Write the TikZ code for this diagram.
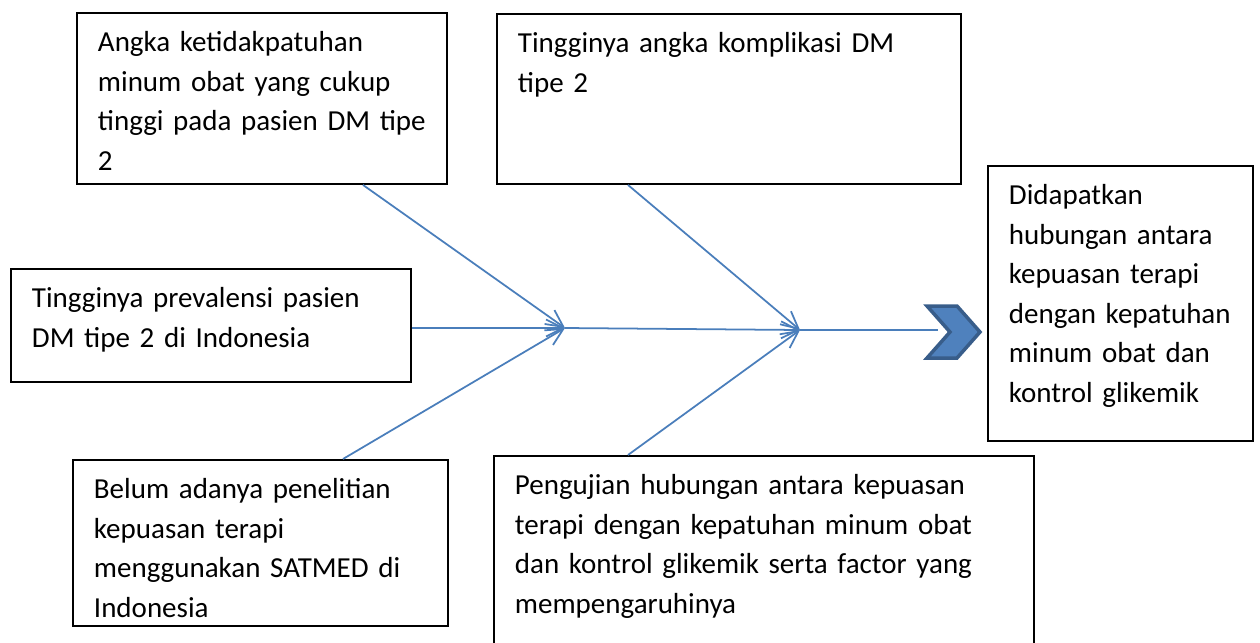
\documentclass[tikz,border=0pt]{standalone}
\usepackage{fontspec}
\setmainfont{Carlito}
\usetikzlibrary{arrows.meta,calc}
\definecolor{boneblue}{HTML}{4A7EBB}
\definecolor{chevfill}{HTML}{4F81BD}
\definecolor{chevedge}{HTML}{385D8A}

\begin{document}
\begin{tikzpicture}[
    box/.style={draw, line width=1.1pt, anchor=north west, align=left,
      inner xsep=0.42cm, inner ysep=0pt, text height=0.77cm,
      font=\fontsize{16.5pt}{22.5pt}\selectfont},
    bone/.style={draw=boneblue, line width=1pt},
    arr/.style={bone, -{Straight Barb[length=0.34cm,width=0.34cm]}}
  ]
    \useasboundingbox (0,0) rectangle (25.2,-12.84);

    % Causes, top row
    \node[box, text width=6.56cm, text depth=2.65cm] (cause1) at (1.52,-0.24)
      {Angka ketidakpatuhan\\minum obat yang cukup\\tinggi pada pasien DM tipe\\2};
    \node[box, text width=8.44cm, text depth=2.63cm] (cause2) at (9.92,-0.26)
      {Tingginya angka komplikasi DM\\tipe 2};

    % Cause on the spine
    \node[box, text width=7.16cm, text depth=1.49cm] (cause3) at (0.2,-5.36)
      {Tingginya prevalensi pasien\\DM tipe 2 di Indonesia};

    % Causes, bottom row
    \node[box, text width=6.66cm, text depth=2.55cm] (cause4) at (1.44,-9.18)
      {Belum adanya penelitian\\kepuasan terapi\\menggunakan SATMED di\\Indonesia};
    \node[box, text width=9.96cm, text depth=3.33cm] (cause5) at (9.86,-9.10)
      {Pengujian hubungan antara kepuasan\\terapi dengan kepatuhan minum obat\\dan kontrol glikemik serta factor yang\\mempengaruhinya};

    % Result
    \node[box, text width=4.46cm, text depth=4.73cm] (result) at (19.74,-3.30)
      {Didapatkan\\hubungan antara\\kepuasan terapi\\dengan kepatuhan\\minum obat dan\\kontrol glikemik};

    % Spine
    \coordinate (joint1) at (11.30,-6.56);
    \coordinate (joint2) at (16.00,-6.60);
    \coordinate (tail) at (18.76,-6.60);
    \draw[arr] (cause3.east |- joint1) -- (joint1);
    \draw[arr] (joint1) -- (joint2);
    \draw[bone] (joint2) -- (tail);

    % Bones
    \draw[arr] ($(cause1.south)+(2.02,0)$) -- (joint1);
    \draw[arr] ($(cause4.north)+(1.65,0)$) -- (joint1);
    \draw[arr] ($(cause2.south)+(-2.02,0)$) -- (joint2);
    \draw[arr] ($(cause5.north)+(-2.72,0)$) -- (joint2);

    % Chevron
    \draw[fill=chevfill, draw=chevedge, line width=2pt, line join=miter]
      (18.54,-6.12) -- (19.14,-6.12) -- (19.60,-6.64) -- (19.14,-7.16)
      -- (18.54,-7.16) -- (19.00,-6.64) -- cycle;
  \end{tikzpicture}
\end{document}
